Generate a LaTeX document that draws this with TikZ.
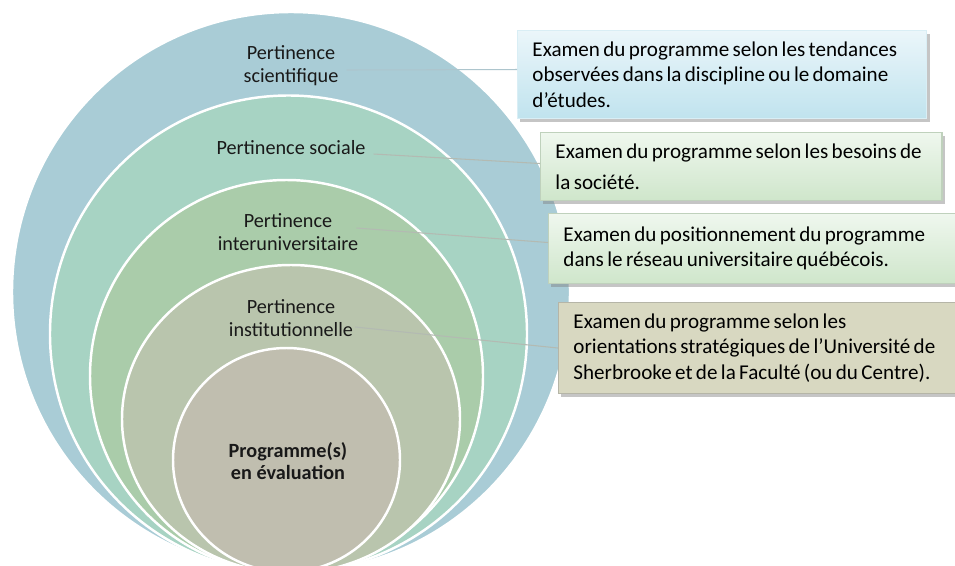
\documentclass[tikz,border=0pt]{standalone}
\usepackage{fontspec}
\setmainfont{Carlito}
\usepackage{xcolor}
\usetikzlibrary{shadows}

\definecolor{ringsci}{HTML}{A9CCD6}
\definecolor{ringsoc}{HTML}{A7D3C3}
\definecolor{ringint}{HTML}{AACCAA}
\definecolor{ringins}{HTML}{B9C5AD}
\definecolor{ringprog}{HTML}{C0BEAF}
\definecolor{bluetop}{HTML}{EBF6FA}
\definecolor{bluebot}{HTML}{C0E3EE}
\definecolor{greentop}{HTML}{EFF7EE}
\definecolor{greenbot}{HTML}{CFE6CB}
\definecolor{khaki}{HTML}{D8D8C1}
\definecolor{linkgray}{HTML}{B3BAB2}

\begin{document}
\begin{tikzpicture}[
        x=0.02cm, y=-0.02cm,
        ring/.style={draw=white, line width=1.4pt},
        lvl/.style={align=center, inner sep=1pt, text=black!90,
            font=\fontsize{11.5}{13}\selectfont},
        box/.style={rectangle, draw, line width=0.6pt, anchor=north west,
            align=left, inner xsep=8.5pt, inner ysep=0pt,
            font=\fontsize{12}{14.5}\selectfont,
            execute at begin node={\spaceskip=0.16em plus 0.05em\hyphenpenalty=10000\relax},
            drop shadow={shadow xshift=1.5pt, shadow yshift=-2pt, opacity=0.45}},
        conn/.style={draw=linkgray, line width=0.6pt}
    ]
    \clip (0,0) rectangle (955,565);
    \fill[white] (0,0) rectangle (955,565);

    % nested rings, all touching at the bottom
    \filldraw[ring, fill=ringsci]  (291,292)   ellipse [x radius=279,   y radius=280];
    \filldraw[ring, fill=ringsoc]  (288.5,334) ellipse [x radius=238.5, y radius=238.5];
    \filldraw[ring, fill=ringint]  (286.5,376) ellipse [x radius=196.5, y radius=196];
    \filldraw[ring, fill=ringins]  (291,419)   ellipse [x radius=169,   y radius=154];
    \filldraw[ring, fill=ringprog] (286.5,460) ellipse [x radius=113.5, y radius=112];

    \node[lvl] (sci)   at (291,66)    {Pertinence\\scientifique};
    \node[lvl] (soc)   at (291,148)   {Pertinence sociale};
    \node[lvl] (inter) at (288,232)   {Pertinence\\interuniversitaire};
    \node[lvl] (inst)  at (291,318)   {Pertinence\\institutionnelle};
    \node[lvl, font=\fontsize{11.5}{13}\selectfont\bfseries] (prog) at (288,461)
        {Programme(s)\\en évaluation};

    \node[box, draw=bluebot!60!white, top color=bluetop, bottom color=bluebot,
        text width=216pt, minimum height=1.76cm] (bsci) at (517,30)
        {Examen du programme selon les tendances\\observées dans la discipline ou le domaine\\d’études.};
    \node[box, draw=greenbot!80!gray, top color=greentop, bottom color=greenbot,
        text width=211.5pt, minimum height=1.36cm, font=\fontsize{12}{17.5}\selectfont] (bsoc) at (540,132)
        {Examen du programme selon les besoins de\\la société.};
    \node[box, draw=greenbot!80!gray, top color=greentop, bottom color=greenbot,
        text width=220pt, minimum height=1.4cm] (binter) at (548,213)
        {Examen du positionnement du programme\\dans le réseau universitaire québécois.};
    \node[box, draw=khaki!60!gray, fill=khaki,
        text width=218pt, minimum height=1.82cm] (binst) at (558,302)
        {Examen du programme selon les\\orientations stratégiques de l’Université de\\Sherbrooke et de la Faculté (ou du Centre).};

    \draw[conn, draw=bluebot!70!gray] ([shift={(6,4)}]sci.east) -- ([shift={(0,-5)}]bsci.west);
    \draw[conn] ([shift={(6,6)}]soc.east) -- ([shift={(0,-3)}]bsoc.west);
    \draw[conn] ([shift={(-4,-4)}]inter.east) -- ([shift={(0,-6)}]binter.west);
    \draw[conn] ([shift={(0,9)}]inst.east) -- (binst.west);
\end{tikzpicture}
\end{document}
